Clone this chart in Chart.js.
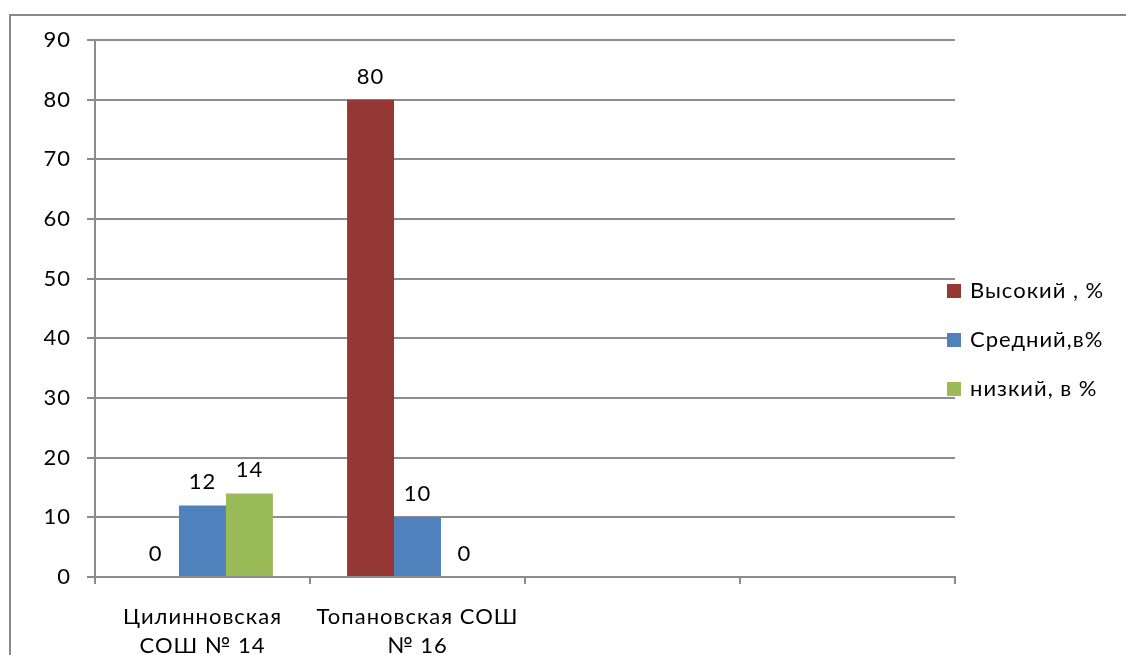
<!DOCTYPE html>
<html>
<head>
<meta charset="utf-8">
<script src="https://cdn.jsdelivr.net/npm/chart.js@4.4.1/dist/chart.umd.min.js"></script>
<style>
    html, body { margin: 0; padding: 0; background: #fff; overflow: hidden; }
    #frame { position: absolute; left: 9px; top: 14px; width: 1200px; height: 700px; border: 2px solid #888; box-sizing: border-box; }
    #wrap { position: absolute; left: 0; top: 0; width: 1126px; height: 655px; }
</style>
</head>
<body>
<div id="frame"></div>
<div id="wrap"><canvas id="myChart"></canvas></div>
<script>
// Kategorie (školy) – dvě prázdné pozice jako v originále
const categories = [["Цилинновская", "СОШ № 14"], ["Топановская СОШ", "№ 16"], "", ""];
const seriesNames = ["Высокий , %", "Средний,в%", "низкий, в %"];
const highValues = [0, 80, null, null];
const midValues = [12, 10, null, null];
const lowValues = [14, 0, null, null];
const yTicks = [0, 10, 20, 30, 40, 50, 60, 70, 80, 90];
const colors = ['#953735', '#4F81BD', '#9BBB59'];

const FONT = "Lato, 'Open Sans', sans-serif";
const FONT_SIZE = 22;
const gridColor = '#8c8c8c';

// Trochu širší písmo (Calibri v originále)
const spacing = {
    id: 'spacing',
    beforeLayout(chart) { chart.ctx.letterSpacing = '1px'; },
    beforeDraw(chart) { chart.ctx.letterSpacing = '1px'; }
};

// Popisky hodnot nad sloupci
const valueLabels = {
    id: 'valueLabels',
    afterDatasetsDraw(chart) {
        const ctx = chart.ctx;
        ctx.save();
        ctx.font = FONT_SIZE + 'px ' + FONT;
        ctx.fillStyle = '#000';
        ctx.textAlign = 'center';
        ctx.textBaseline = 'alphabetic';
        chart.data.datasets.forEach((ds, i) => {
            chart.getDatasetMeta(i).data.forEach((bar, j) => {
                const v = ds.data[j];
                if (v === null || v === undefined) return;
                ctx.fillText(String(v), bar.x, bar.y - 16);
            });
        });
        ctx.restore();
    }
};

// Legenda vpravo (jako v Excelu, zasahuje kousek do mřížky)
const sideLegend = {
    id: 'sideLegend',
    afterDraw(chart) {
        const ctx = chart.ctx;
        const area = chart.chartArea;
        ctx.save();
        ctx.font = FONT_SIZE + 'px ' + FONT;
        ctx.textBaseline = 'middle';
        chart.data.datasets.forEach((ds, i) => {
            const y = area.top + 251 + i * 49;
            const x = area.right - 8;
            ctx.fillStyle = ds.backgroundColor;
            ctx.fillRect(x, y - 7, 14, 14);
            ctx.fillStyle = '#000';
            ctx.fillText(ds.label, x + 23, y);
        });
        ctx.restore();
    }
};

const ctx = document.getElementById('myChart').getContext('2d');
new Chart(ctx, {
    type: 'bar',
    data: {
        labels: categories,
        datasets: [
            { label: seriesNames[0], data: highValues, backgroundColor: colors[0] },
            { label: seriesNames[1], data: midValues, backgroundColor: colors[1] },
            { label: seriesNames[2], data: lowValues, backgroundColor: colors[2] }
        ]
    },
    options: {
        responsive: true,
        maintainAspectRatio: false,
        animation: false,
        datasets: { bar: { categoryPercentage: 0.655, barPercentage: 1 } },
        layout: { padding: { top: 40, right: 171, left: 0, bottom: 0 } },
        plugins: {
            legend: { display: false },
            tooltip: { enabled: false }
        },
        scales: {
            x: {
                afterFit: s => { s.height = 78; },
                grid: { offset: true, drawOnChartArea: false, drawTicks: true, tickLength: 7, color: gridColor, lineWidth: 2 },
                border: { color: gridColor, width: 2 },
                ticks: { color: '#000', font: { size: FONT_SIZE, family: FONT, lineHeight: 1.3 }, padding: 19, maxRotation: 0, autoSkip: false }
            },
            y: {
                min: 0,
                max: 90,
                afterFit: s => { s.width = 95; },
                afterBuildTicks: s => { s.ticks = yTicks.map(v => ({ value: v })); },
                grid: { color: gridColor, lineWidth: 2, tickLength: 8 },
                border: { color: gridColor, width: 2 },
                ticks: { color: '#000', font: { size: FONT_SIZE, family: FONT }, padding: 16 }
            }
        }
    },
    plugins: [spacing, valueLabels, sideLegend]
});
</script>
</body>
</html>
